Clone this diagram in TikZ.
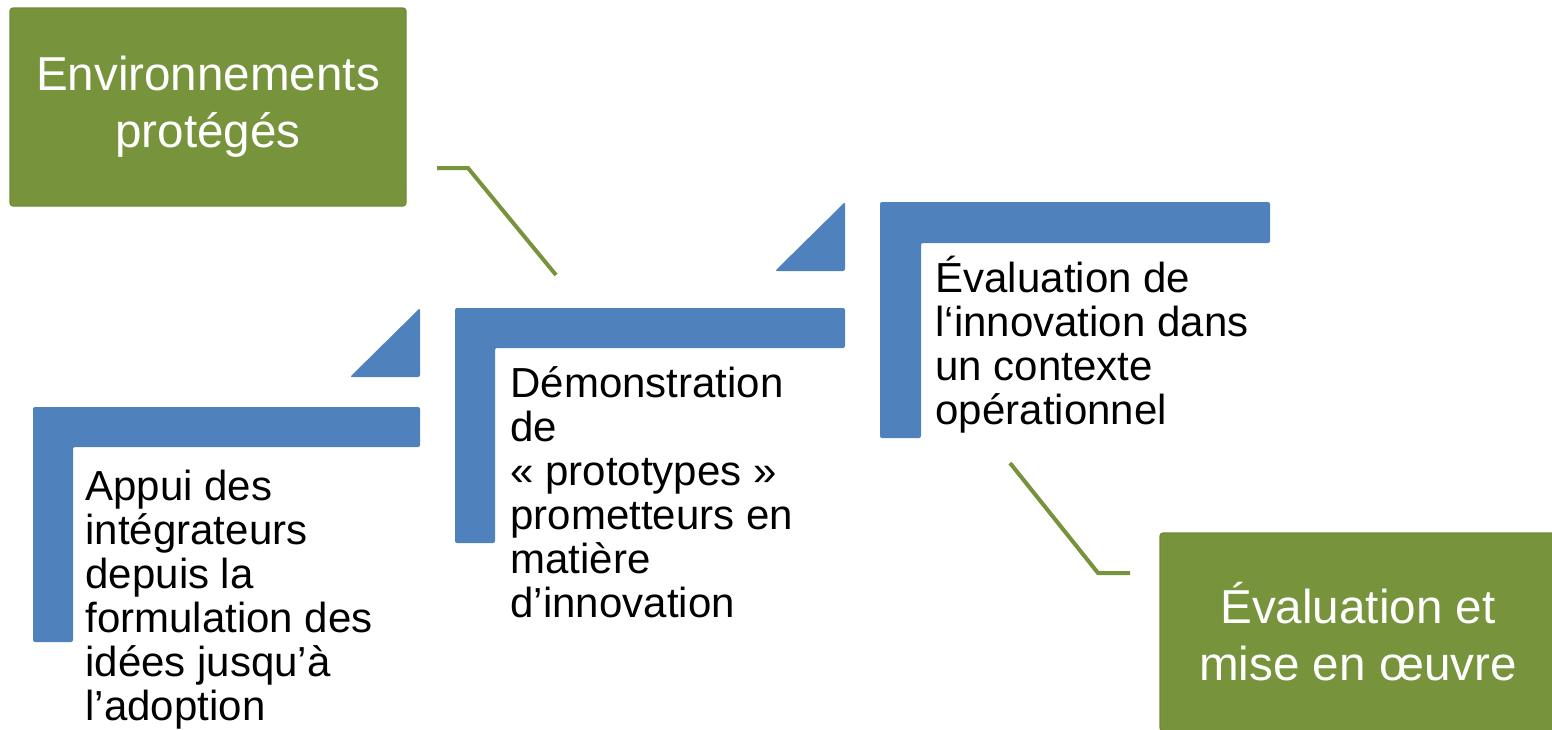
\documentclass[tikz,border=0pt]{standalone}
\usepackage{fontspec}
\setmainfont{Liberation Sans}
\usetikzlibrary{positioning}

\definecolor{barblue}{HTML}{4F81BD}
\definecolor{leafgreen}{HTML}{77933C}
\definecolor{leafedge}{HTML}{6F8A38}

\begin{document}
\begin{tikzpicture}[x=0.5pt,y=-0.5pt,semithick]

  \tikzstyle{stage}=[anchor=base west,align=left,inner sep=0pt,
                     font=\fontsize{21}{22}\selectfont]
  \tikzstyle{phase}=[rectangle,draw=leafedge,fill=leafgreen,rounded corners=1.5pt,
                     minimum width=198pt,minimum height=99pt,text=white,align=center,
                     font=\fontsize{23.8}{28.5}\selectfont]
  \tikzstyle{bar}=[fill=barblue,rounded corners=1pt]
  \tikzstyle{link}=[draw=leafgreen,line width=2pt]

  \useasboundingbox (0,0) rectangle (1552,729);

  % the three steps
  \fill[bar] (33,407) -- (420,407) -- (420,447) -- (73,447) -- (73,642) -- (33,642) -- cycle;
  \fill[bar] (350,377) -- (420,308) -- (420,377) -- cycle;
  \fill[bar] (455,308) -- (845,308) -- (845,348) -- (495,348) -- (495,543) -- (455,543) -- cycle;
  \fill[bar] (775,271) -- (845,202) -- (845,271) -- cycle;
  \fill[bar] (880,202) -- (1270,202) -- (1270,243) -- (921,243) -- (921,438) -- (880,438) -- cycle;

  % base = baseline of the last line
  \node[stage] (support) at (85,720)
    {Appui des\\intégrateurs\\depuis la\\formulation des\\idées jusqu’à\\l’adoption};
  \node[stage] (demo)    at (510,617)
    {Démonstration\\de\\« prototypes »\\prometteurs en\\matière\\d’innovation};
  \node[stage] (assess)  at (935,424)
    {Évaluation de\\l‘innovation dans\\un contexte\\opérationnel};

  % green call-outs
  \node[phase] (sandbox) at (208,107) {Environnements\\protégés};
  \node[phase] (rollout) at (1358,632) {Évaluation et\\mise en œuvre};

  \coordinate (s1) at (437,168);
  \coordinate (s2) at (468,168);
  \coordinate (s3) at (556,275);
  \coordinate (r1) at (1010,463);
  \coordinate (r2) at (1098,573);
  \coordinate (r3) at (1130,573);

  \draw[link] (s1) -- (s2) -- (s3);
  \draw[link] (r1) -- (r2) -- (r3);
\end{tikzpicture}
\end{document}
